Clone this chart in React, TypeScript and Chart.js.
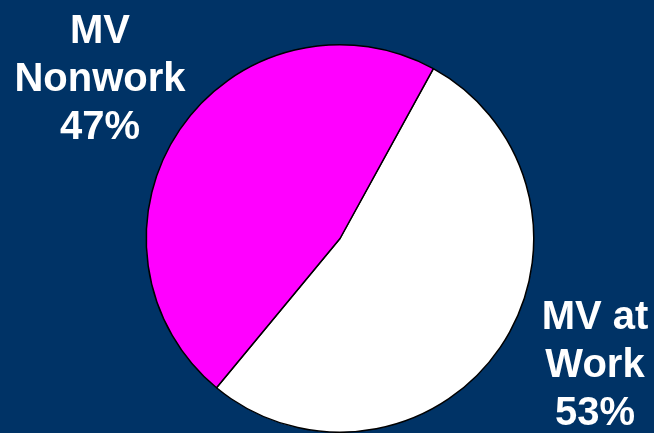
import React, { useEffect, useRef } from "react";
import { Chart, registerables } from "chart.js";

Chart.register(...registerables);

const categories = ["MV at Work", "MV Nonwork"];
const values = [53, 47];
const sliceColors = ["#FFFFFF", "#FF00FF"];
const labelLines = [
  ["MV", "Nonwork", "47%"],
  ["MV at", "Work", "53%"],
];

export default function App() {
  const ref = useRef<HTMLCanvasElement | null>(null);

  useEffect(() => {
    if (!ref.current) return;
    const chart = new Chart(ref.current, {
      type: "pie",
      data: {
        labels: categories,
        datasets: [
          {
            data: values,
            backgroundColor: sliceColors,
            borderColor: "#000000",
            borderWidth: 1.5,
          },
        ],
      },
      options: {
        responsive: false,
        animation: false,
        rotation: 28.8,
        layout: { padding: { left: 145, right: 119, top: 44, bottom: 0 } },
        plugins: {
          legend: { display: false },
          tooltip: { enabled: false },
        },
      },
    });
    return () => chart.destroy();
  }, []);

  const labelStyle: React.CSSProperties = {
    position: "absolute",
    width: 200,
    textAlign: "center",
    color: "#FFFFFF",
    fontFamily: "'Liberation Sans', Arial, sans-serif",
    fontWeight: "bold",
    fontSize: 40,
    lineHeight: "48px",
  };

  return (
    <div
      style={{
        position: "fixed",
        left: 0,
        top: 0,
        width: 654,
        height: 433,
        background: "#003366",
        overflow: "hidden",
      }}
    >
      <canvas ref={ref} width={654} height={433} style={{ position: "absolute", left: 0, top: 0 }} />
      <div style={{ ...labelStyle, left: 0, top: 5 }}>
        {labelLines[0].map((l, i) => (
          <div key={i}>{l}</div>
        ))}
      </div>
      <div style={{ ...labelStyle, left: 495, top: 291 }}>
        {labelLines[1].map((l, i) => (
          <div key={i}>{l}</div>
        ))}
      </div>
    </div>
  );
}
